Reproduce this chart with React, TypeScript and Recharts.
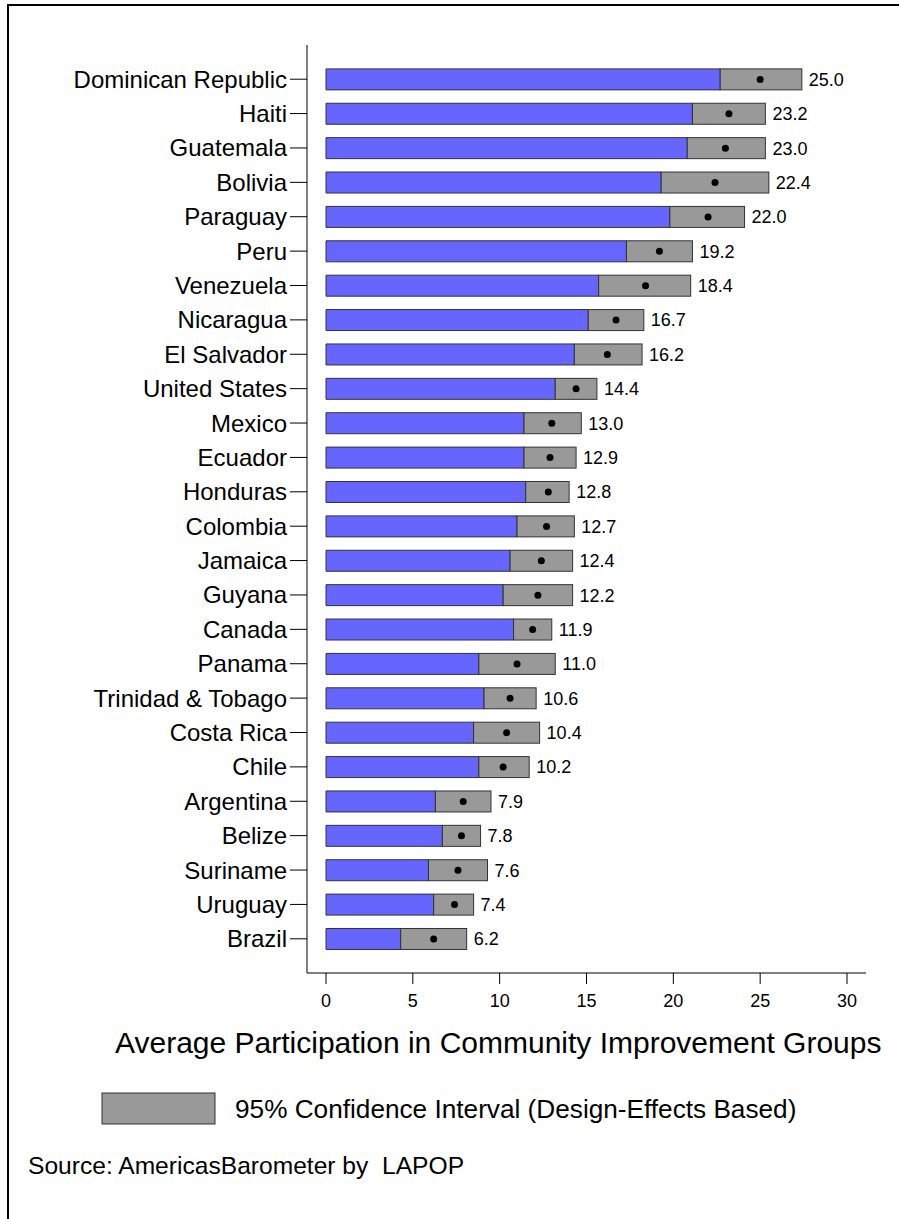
import React from 'react';
import { BarChart, Bar, XAxis, YAxis, LabelList } from 'recharts';

const countries = [
  'Dominican Republic', 'Haiti', 'Guatemala', 'Bolivia', 'Paraguay', 'Peru', 'Venezuela',
  'Nicaragua', 'El Salvador', 'United States', 'Mexico', 'Ecuador', 'Honduras', 'Colombia',
  'Jamaica', 'Guyana', 'Canada', 'Panama', 'Trinidad & Tobago', 'Costa Rica', 'Chile',
  'Argentina', 'Belize', 'Suriname', 'Uruguay', 'Brazil',
];
const means = [25.0, 23.2, 23.0, 22.4, 22.0, 19.2, 18.4, 16.7, 16.2, 14.4, 13.0, 12.9, 12.8, 12.7, 12.4, 12.2, 11.9, 11.0, 10.6, 10.4, 10.2, 7.9, 7.8, 7.6, 7.4, 6.2];
const lowerCI = [22.7, 21.1, 20.8, 19.3, 19.8, 17.3, 15.7, 15.1, 14.3, 13.2, 11.4, 11.4, 11.5, 11.0, 10.6, 10.2, 10.8, 8.8, 9.1, 8.5, 8.8, 6.3, 6.7, 5.9, 6.2, 4.3];
const upperCI = [27.4, 25.3, 25.3, 25.5, 24.1, 21.1, 21.0, 18.3, 18.2, 15.6, 14.7, 14.4, 14.0, 14.3, 14.2, 14.2, 13.0, 13.2, 12.1, 12.3, 11.7, 9.5, 8.9, 9.3, 8.5, 8.1];
const xTicks = [0, 5, 10, 15, 20, 25, 30];

const data = countries.map((country, i) => ({
  country,
  lower: lowerCI[i],
  ci: +(upperCI[i] - lowerCI[i]).toFixed(2),
  mean: means[i],
}));

// grey CI box with the mean marked as a dot
const CiShape = (props: any) => {
  const { x, y, width, height, payload } = props;
  const dotX = x + (width * (payload.mean - payload.lower)) / payload.ci;
  return (
    <g>
      <rect x={x} y={y} width={width} height={height} fill="#999999" stroke="#333333" strokeWidth={1} />
      <circle cx={dotX} cy={y + height / 2} r={3.5} fill="#000000" />
    </g>
  );
};

const App = () => {
  return (
    <div style={{ position: 'absolute', left: 0, top: 0, width: 899, height: 1219, fontFamily: '"Liberation Sans", Arial, sans-serif', background: '#fff' }}>
      <BarChart
        width={899}
        height={1219}
        data={data}
        layout="vertical"
        barCategoryGap="20%"
        margin={{ top: 45, right: 33, bottom: 206, left: 0 }}
      >
        <XAxis
          type="number"
          domain={[0, 30]}
          ticks={xTicks}
          padding={{ left: 19, right: 19 }}
          height={40}
          tickSize={11}
          tickMargin={10}
          axisLine={{ stroke: '#000' }}
          tickLine={{ stroke: '#000' }}
          tick={{ fill: '#000', fontSize: 18 }}
        />
        <YAxis
          type="category"
          dataKey="country"
          width={307}
          interval={0}
          padding={{ top: 17, bottom: 17 }}
          tickSize={17}
          tickMargin={3}
          axisLine={{ stroke: '#000' }}
          tickLine={{ stroke: '#000' }}
          tick={{ fill: '#000', fontSize: 24 }}
        />
        <Bar dataKey="lower" stackId="a" fill="#6666FF" stroke="#333333" strokeWidth={1} isAnimationActive={false} />
        <Bar dataKey="ci" stackId="a" shape={CiShape} isAnimationActive={false}>
          <LabelList
            dataKey="mean"
            position="right"
            offset={7}
            formatter={(v: any) => Number(v).toFixed(1)}
            style={{ fill: '#000', fontSize: 18 }}
          />
        </Bar>
      </BarChart>
      <svg width={899} height={1219} style={{ position: 'absolute', left: 0, top: 0, pointerEvents: 'none' }}>
        <line x1={8} y1={5} x2={899} y2={5} stroke="#000" strokeWidth={2} />
        <line x1={8} y1={4} x2={8} y2={1219} stroke="#000" strokeWidth={2} />
        <text x={115} y={1053} fontSize={30} fill="#000">Average Participation in Community Improvement Groups</text>
        <rect x={102} y={1093} width={113} height={31} fill="#999999" stroke="#333333" strokeWidth={1} />
        <text x={235} y={1118} fontSize={26.2} fill="#000">95% Confidence Interval (Design-Effects Based)</text>
        <text x={28} y={1174} fontSize={24.6} fill="#000" style={{ whiteSpace: 'pre' }}>Source: AmericasBarometer by  LAPOP</text>
      </svg>
    </div>
  );
};

export default App;
